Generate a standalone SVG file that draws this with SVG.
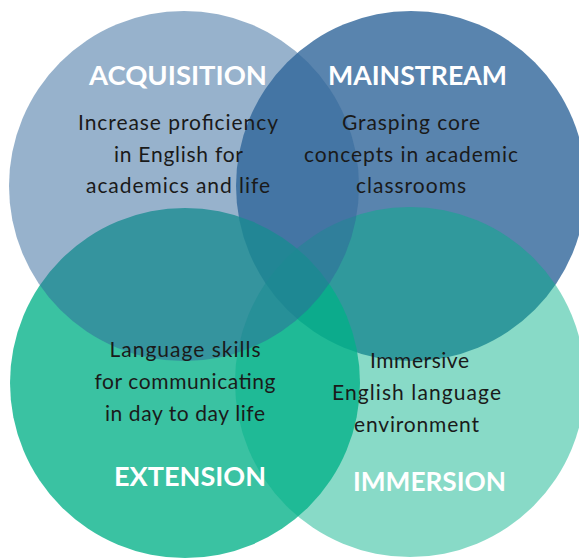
<svg xmlns="http://www.w3.org/2000/svg" width="579" height="558" viewBox="0 0 579 558">
<style>
.blue{fill:#30659a}
.teal{fill:#02b188}
.head{font-family:Lato,"Liberation Sans",sans-serif;font-weight:700;font-size:27px;fill:#ffffff;text-anchor:middle}
.body{font-family:Lato,"Liberation Sans",sans-serif;font-weight:400;font-size:21px;fill:#1a1a1a;text-anchor:middle}
</style>
<rect width="579" height="558" fill="#ffffff"/>
<g id="circles">
<circle id="mainstream-circle" class="blue" cx="411" cy="186" r="175" fill-opacity="0.8"/>
<circle id="extension-circle" class="teal" cx="185" cy="383" r="175" fill-opacity="0.78"/>
<circle id="immersion-circle" class="teal" cx="410" cy="382" r="175" fill-opacity="0.47"/>
<circle id="acquisition-circle" class="blue" cx="184" cy="186" r="175" fill-opacity="0.5"/>
</g>
<g id="acquisition">
<text class="head" x="178" y="85" textLength="178" lengthAdjust="spacingAndGlyphs">ACQUISITION</text>
<text class="body" x="178" y="130" textLength="200">Increase proficiency</text>
<text class="body" x="178.5" y="162" textLength="129">in English for</text>
<text class="body" x="178" y="193" textLength="184">academics and life</text>
</g>
<g id="mainstream">
<text class="head" x="417.5" y="85" textLength="179" lengthAdjust="spacingAndGlyphs">MAINSTREAM</text>
<text class="body" x="411" y="130" textLength="138">Grasping core</text>
<text class="body" x="411" y="162" textLength="214">concepts in academic</text>
<text class="body" x="411" y="193" textLength="110">classrooms</text>
</g>
<g id="extension">
<text class="body" x="185" y="357" textLength="151">Language skills</text>
<text class="body" x="185" y="389" textLength="181">for communicating</text>
<text class="body" x="185" y="421" textLength="160">in day to day life</text>
<text class="head" x="190" y="486" textLength="152" lengthAdjust="spacingAndGlyphs">EXTENSION</text>
</g>
<g id="immersion">
<text class="body" x="419.5" y="368" textLength="99">Immersive</text>
<text class="body" x="416.5" y="400" textLength="169">English language</text>
<text class="body" x="416.5" y="432" textLength="125">environment</text>
<text class="head" x="429.5" y="491" textLength="153" lengthAdjust="spacingAndGlyphs">IMMERSION</text>
</g>
</svg>
